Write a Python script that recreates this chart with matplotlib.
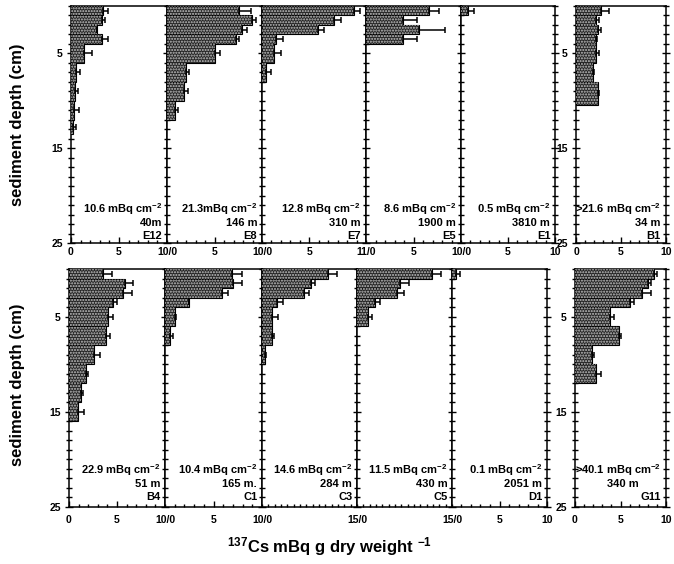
import numpy as np
import matplotlib
matplotlib.use('Agg')
import matplotlib.pyplot as plt
from matplotlib.ticker import MultipleLocator, FixedLocator

plt.rcParams['font.family'] = ['Liberation Sans', 'DejaVu Sans']
plt.rcParams['font.weight'] = 'bold'
plt.rcParams['mathtext.fontset'] = 'custom'
plt.rcParams['mathtext.rm'] = 'Liberation Sans:bold'
plt.rcParams['mathtext.bf'] = 'Liberation Sans:bold'
plt.rcParams['mathtext.it'] = 'Liberation Sans:bold'
plt.rcParams['mathtext.default'] = 'rm'
plt.rcParams['hatch.linewidth'] = 1.0

# 137Cs activity profiles: depth interval edges (cm), activity and upper error (mBq/g dry wt)
e12_depth = [0, 1, 2, 3, 4, 6, 8, 10, 12, 13.5]
e12_cs = [3.3, 3.2, 2.7, 3.2, 1.4, 0.5, 0.4, 0.35, 0.2]
e12_err = [0.6, 0.3, 0.0, 0.7, 0.8, 0.45, 0.3, 0.45, 0.3]

e8_depth = [0, 1, 2, 3, 4, 6, 8, 10, 12]
e8_cs = [7.6, 8.9, 7.9, 7.3, 5.1, 2.0, 1.75, 0.8]
e8_err = [1.2, 0.5, 0.5, 0.3, 0.5, 0.35, 0.45, 0.4]

e7_depth = [0, 1, 2, 3, 4, 6, 8]
e7_cs = [9.75, 7.65, 5.9, 1.5, 1.3, 0.45]
e7_err = [0.65, 0.75, 0.7, 0.7, 0.7, 0.45]

e5_depth = [0, 1, 2, 3, 4]
e5_cs = [6.6, 3.9, 5.6, 3.9]
e5_err = [1.1, 1.5, 2.7, 1.5]

e1_depth = [0, 1]
e1_cs = [0.75]
e1_err = [0.6]

b1_depth = [0, 1, 2, 3, 4, 6, 8, 10.4]
b1_cs = [2.8, 2.2, 2.4, 2.2, 2.2, 1.9, 2.45]
b1_err = [0.9, 0.3, 0.4, 0.1, 0.35, 0.1, 0.15]

b4_depth = [0, 1, 2, 3, 4, 6, 8, 10, 12, 14, 16]
b4_cs = [3.5, 5.85, 5.6, 4.6, 4.1, 3.9, 2.6, 1.8, 1.3, 0.95]
b4_err = [0.95, 0.85, 1.0, 0.45, 0.45, 0.4, 0.6, 0.2, 0.2, 0.6]

c1_depth = [0, 1, 2, 3, 4, 6, 8]
c1_cs = [6.9, 7.0, 5.9, 2.5, 1.0, 0.55]
c1_err = [1.0, 0.9, 0.6, 0.0, 0.1, 0.3]

c3_depth = [0, 1, 2, 3, 4, 6, 8, 10]
c3_cs = [10.4, 7.8, 6.7, 2.3, 1.5, 1.5, 0.4]
c3_err = [1.4, 0.5, 0.7, 1.0, 1.0, 0.35, 0.3]

c5_depth = [0, 1, 2, 3, 4, 6]
c5_cs = [11.8, 6.8, 6.3, 2.9, 1.8]
c5_err = [1.4, 1.4, 1.1, 0.8, 0.6]

d1_depth = [0, 1]
d1_cs = [0.4]
d1_err = [0.4]

g11_depth = [0, 1, 2, 3, 4, 6, 8, 10, 12]
g11_cs = [8.7, 8.0, 7.4, 6.0, 3.9, 4.8, 1.9, 2.35]
g11_err = [0.3, 0.3, 0.9, 0.5, 0.35, 0.25, 0.2, 0.55]

# panel notes: inventory, water depth, station
notes = {
    'E12': ['10.6 mBq cm$^{-2}$', '40m', 'E12'],
    'E8': ['21.3mBq cm$^{-2}$', '146 m', 'E8'],
    'E7': ['12.8 mBq cm$^{-2}$', '310 m', 'E7'],
    'E5': ['8.6 mBq cm$^{-2}$', '1900 m', 'E5'],
    'E1': ['0.5 mBq cm$^{-2}$', '3810 m', 'E1'],
    'B1': ['>21.6 mBq cm$^{-2}$', '34 m', 'B1'],
    'B4': ['22.9 mBq cm$^{-2}$', '51 m', 'B4'],
    'C1': ['10.4 mBq cm$^{-2}$', '165 m.', 'C1'],
    'C3': ['14.6 mBq cm$^{-2}$', '284 m', 'C3'],
    'C5': ['11.5 mBq cm$^{-2}$', '430 m', 'C5'],
    'D1': ['0.1 mBq cm$^{-2}$', '2051 m', 'D1'],
    'G11': ['>40.1 mBq cm$^{-2}$', '340 m', 'G11'],
}

W, H = 674, 564
fig = plt.figure(figsize=(W / 100, H / 100), dpi=100)


def add_panel(x0, x1, y0, y1):
    return fig.add_axes([x0 / W, 1 - y1 / H, (x1 - x0) / W, (y1 - y0) / H])


def draw_core(ax, depth, cs, err, xmax, xticks, xlabels, first, last, name, row):
    depth = np.array(depth, dtype=float)
    tops = depth[:-1]
    hts = np.diff(depth)
    cs = np.array(cs)
    ax.barh(tops, cs, height=hts, align='edge', color='#262626',
            edgecolor='black', linewidth=0.8, zorder=2)
    ax.barh(tops, cs, height=hts, align='edge', color='none',
            edgecolor='#c4c4c4', hatch='......', linewidth=0, zorder=3)
    ax.errorbar(cs, tops + hts / 2, xerr=[np.zeros(len(cs)), err], fmt='none',
                ecolor='black', elinewidth=1.1, capsize=2.5, capthick=1.1, zorder=4)
    ax.set_xlim(0, xmax)
    ax.set_ylim(25, 0)

    ax.xaxis.set_major_locator(FixedLocator(xticks))
    ax.xaxis.set_minor_locator(MultipleLocator(1))
    ax.set_xticklabels(xlabels)
    ax.yaxis.set_major_locator(FixedLocator([5, 15, 25]))
    ax.yaxis.set_minor_locator(MultipleLocator(1))
    ax.tick_params(axis='x', which='both', direction='in', labelsize=7.5,
                   pad=3 if row == 0 else 6)
    ax.tick_params(axis='x', which='major', length=4, width=1)
    ax.tick_params(axis='x', which='minor', length=2.5, width=1)
    ax.tick_params(axis='y', which='both', direction='inout', right=last,
                   labelleft=first, labelsize=7.5, pad=3)
    ax.tick_params(axis='y', which='major', length=6, width=1)
    ax.tick_params(axis='y', which='minor', length=4, width=1)
    for s in ax.spines.values():
        s.set_linewidth(1.1)

    lines = notes[name]
    if row == 0:
        ys = [0.125, 0.07, 0.015]
    else:
        ys = [0.14, 0.085, 0.03]
    xr = 0.95 if name not in ('B1', 'G11') else 0.94
    for i, (txt, yy) in enumerate(zip(lines, ys)):
        if name == 'G11' and i == 1:
            ax.text(0.53, yy, txt, transform=ax.transAxes, ha='center',
                    va='baseline', fontsize=8)
        else:
            ax.text(xr, yy, txt, transform=ax.transAxes, ha='right',
                    va='baseline', fontsize=8)


top = (6, 243)
bot = (269, 507)

# top row
draw_core(add_panel(71, 167, *top), e12_depth, e12_cs, e12_err, 10,
          [0, 5, 10], ['0', '5', '10/0'], True, False, 'E12', 0)
draw_core(add_panel(167, 262, *top), e8_depth, e8_cs, e8_err, 10,
          [5, 10], ['5', '10/0'], False, False, 'E8', 0)
draw_core(add_panel(262, 366, *top), e7_depth, e7_cs, e7_err, 11,
          [5, 11], ['5', '11/0'], False, False, 'E7', 0)
draw_core(add_panel(366, 461, *top), e5_depth, e5_cs, e5_err, 10,
          [5, 10], ['5', '10/0'], False, False, 'E5', 0)
draw_core(add_panel(461, 555, *top), e1_depth, e1_cs, e1_err, 10,
          [5, 10], ['5', '10'], False, True, 'E1', 0)
draw_core(add_panel(576, 666, *top), b1_depth, b1_cs, b1_err, 10,
          [0, 5, 10], ['0', '5', '10'], True, True, 'B1', 0)

# bottom row
draw_core(add_panel(69, 165, *bot), b4_depth, b4_cs, b4_err, 10,
          [0, 5, 10], ['0', '5', '10/0'], True, False, 'B4', 1)
draw_core(add_panel(165, 262, *bot), c1_depth, c1_cs, c1_err, 10,
          [5, 10], ['5', '10/0'], False, False, 'C1', 1)
draw_core(add_panel(262, 357, *bot), c3_depth, c3_cs, c3_err, 15,
          [15], ['15/0'], False, False, 'C3', 1)
draw_core(add_panel(357, 452, *bot), c5_depth, c5_cs, c5_err, 15,
          [15], ['15/0'], False, False, 'C5', 1)
draw_core(add_panel(452, 547, *bot), d1_depth, d1_cs, d1_err, 10,
          [5, 10], ['5', '10'], False, True, 'D1', 1)
draw_core(add_panel(575, 666, *bot), g11_depth, g11_cs, g11_err, 10,
          [0, 5, 10], ['0', '5', '10'], True, True, 'G11', 1)

fig.text(18 / W, 1 - 125 / H, 'sediment depth (cm)', rotation=90,
         ha='center', va='center', fontsize=12)
fig.text(18 / W, 1 - 385 / H, 'sediment depth (cm)', rotation=90,
         ha='center', va='center', fontsize=12)
fig.text(330 / W, 1 - 547 / H, '$^{137}$Cs mBq g dry weight $^{-1}$',
         ha='center', va='center', fontsize=12)

fig.savefig('out.png', dpi=100)
